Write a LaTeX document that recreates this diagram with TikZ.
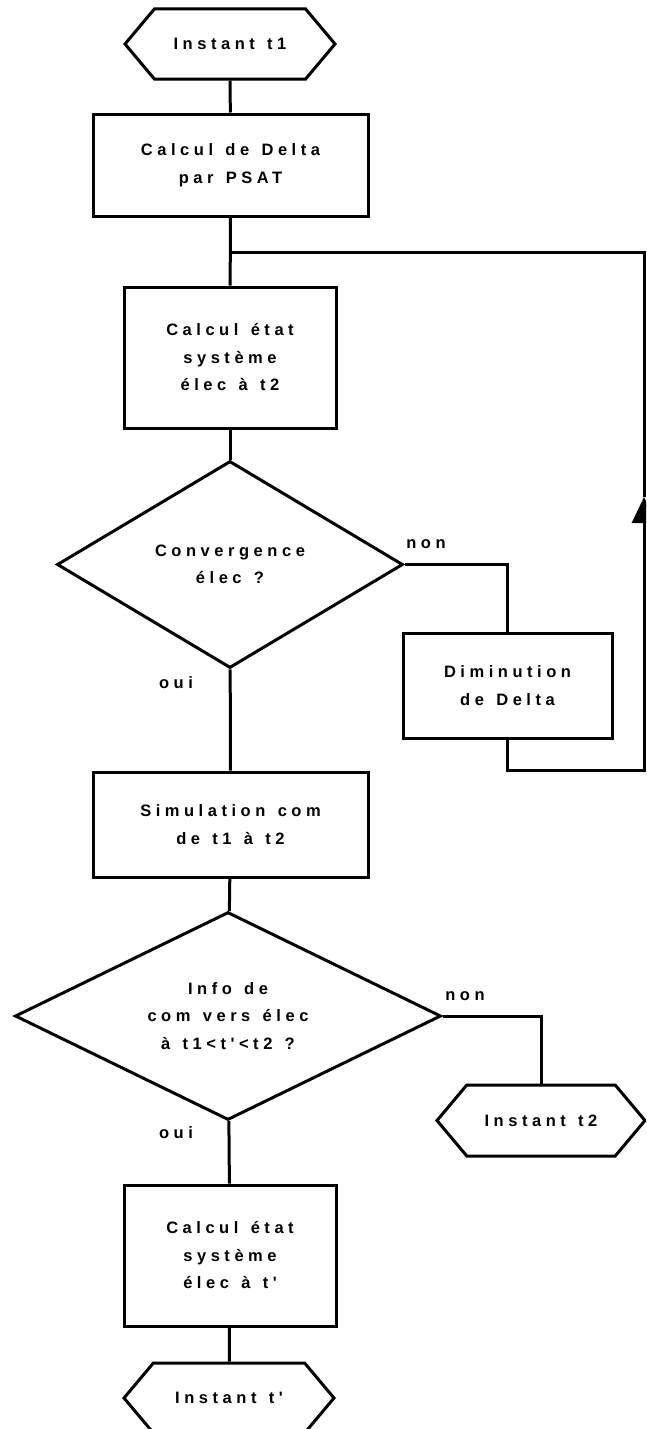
\documentclass[tikz,border=0pt]{standalone}
\usepackage{fontspec}
\newfontfamily\flowfont[LetterSpace=27.5,WordSpace=1.35]{Liberation Sans}
\usetikzlibrary{shapes.geometric,shapes.symbols,arrows.meta}
\tikzset{
  ecrit/.style={font=\flowfont\bfseries\fontsize{16.5}{27.5}\selectfont},
  bloc/.style={draw, line width=3pt, ecrit, align=center, inner sep=0pt},
  boite/.style={bloc, rectangle},
  test/.style={bloc, diamond, inner sep=-12pt},
  borne/.style={bloc, signal, signal to=west and east, signal pointer angle=100,
    minimum width=210pt, minimum height=70pt},
  lien/.style={line width=3pt},
  rep/.style={ecrit, inner sep=0pt}
}
\begin{document}
\begin{tikzpicture}[x=1pt,y=-1pt]
\useasboundingbox (0,0) rectangle (646,1429);
\clip (0,0) rectangle (646,1429);
% blocs
\node[borne] (t1) at (230,44) {Instant t1};
\node[boite, minimum width=275pt, minimum height=102pt] (b1) at (230.5,165) {Calcul de Delta\\par PSAT};
\node[boite, minimum width=212pt, minimum height=141pt] (b2) at (230,357.5) {Calcul \'etat\\syst\`eme\\\'elec \`a t2};
\node[test, minimum width=346pt, minimum height=207pt] (d1) at (230,564.5) {Convergence\\\'elec ?};
\node[boite, minimum width=209pt, minimum height=105pt] (b3) at (507.5,685.5) {Diminution\\de Delta};
\node[boite, minimum width=275pt, minimum height=105pt] (b4) at (230.5,824.5) {Simulation com\\de t1 \`a t2};
\node[test, minimum width=426pt, minimum height=208pt] (d2) at (228,1016) {Info de\\com vers \'elec\\\`a t1<t'<t2 ?};
\node[borne, minimum width=208pt, minimum height=71pt] (t2) at (541,1120.5) {Instant t2};
\node[boite, minimum width=212pt, minimum height=141pt] (b5) at (230,1255.5) {Calcul \'etat\\syst\`eme\\\'elec \`a t'};
\node[borne] (t3) at (229,1398) {Instant t'};
% reponses
\node[rep] (non1) at (426,544) {non};
\node[rep] (oui1) at (176,683) {oui};
\node[rep] (non2) at (465,996) {non};
\node[rep] (oui2) at (176,1133) {oui};
% liens
\coordinate (j) at (230,252);
\coordinate (r1) at (644,770);
\coordinate (r2) at (644,497);
\draw[lien] (t1) -- (b1);
\draw[lien] (b1) -- (b2);
\draw[lien] (b2) -- (d1);
\draw[lien] (d1.east) -| (b3);
\draw[lien, -{Triangle[width=24pt,length=26pt]}] (b3) |- (r1) -- (r2);
\draw[lien] (r2) |- (j);
\draw[lien] (d1) -- (b4);
\draw[lien] (b4) -- (d2);
\draw[lien] (d2.east) -| (t2);
\draw[lien] (d2) -- (b5);
\draw[lien] (b5) -- (t3);
\end{tikzpicture}
\end{document}
